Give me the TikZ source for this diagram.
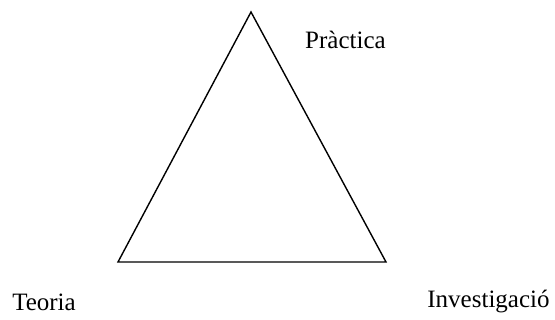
\documentclass[tikz,border=0pt]{standalone}
\usepackage{fontspec}
\setmainfont{Liberation Serif}
\usepackage{tikz}
\usetikzlibrary{positioning}

\tikzset{
  vertexlabel/.style={font=\fontsize{25}{29}\selectfont, inner sep=0pt}
}

\begin{document}
\begin{tikzpicture}[x=1pt,y=-1pt]
  \useasboundingbox (0,0) rectangle (555,320);
  % triangle corners
  \coordinate (top) at (251,12);
  \coordinate (bl) at (118,262);
  \coordinate (br) at (386,262);
  \draw[line width=1.4pt] (top) -- (br) -- (bl) -- cycle;

  \node[vertexlabel] (prac) at (345.5,40) {Pràctica};
  \node[vertexlabel] (teo) at (44,302) {Teoria};
  \node[vertexlabel] (inv) at (488.5,302) {Investigació};
\end{tikzpicture}
\end{document}
